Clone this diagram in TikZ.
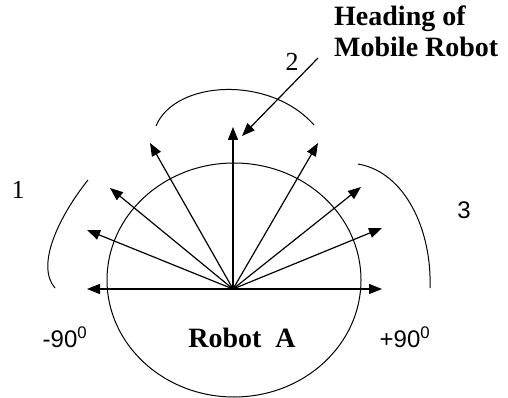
\documentclass[tikz,border=0pt]{standalone}
\usepackage{fontspec}
\setmainfont{Liberation Serif}
\newfontfamily\labsans{Liberation Sans}
\usetikzlibrary{arrows.meta}
\begin{document}
\begin{tikzpicture}[x=1pt,y=-1pt,
  ray/.style={line width=1.2pt,-{Triangle[length=13pt,width=10pt]}},
  curve/.style={line width=1pt},
  boldlab/.style={font=\fontsize{28}{31}\selectfont\bfseries,align=left,inner sep=0pt},
  numlab/.style={font=\fontsize{26}{28}\selectfont,inner sep=0pt},
  anglab/.style={font=\labsans\fontsize{24}{26}\selectfont,inner sep=0pt}]
\useasboundingbox (0,0) rectangle (508,398);
% robot body
\draw[curve] (234,280) ellipse [x radius=127, y radius=117];
\coordinate (O) at (233,289);
\coordinate (tL) at (87,289);
\coordinate (tR) at (382,289);
\coordinate (tL1) at (87,230);
\coordinate (tL2) at (110,188);
\coordinate (tL3) at (150,143);
\coordinate (tV) at (233,127);
\coordinate (tR3) at (318,143);
\coordinate (tR2) at (361,187);
\coordinate (tR1) at (382,228);
\foreach \t in {tL,tR,tL1,tL2,tL3,tV,tR3,tR2,tR1}
  \draw[ray] (O) -- (\t);
% heading arrow
\coordinate (hs) at (318,58);
\coordinate (ht) at (242,136);
\draw[ray] (hs) -- (ht);
% sector arcs
\coordinate (a1s) at (88,180);
\coordinate (a1e) at (55,288);
\draw[curve] (a1s) .. controls (60,215) and (35,265) .. (a1e);
\coordinate (a2s) at (156,126);
\coordinate (a2e) at (314,125);
\draw[curve] (a2s) .. controls (175,80) and (270,75) .. (a2e);
\coordinate (a3s) at (358,164);
\coordinate (a3e) at (430,288);
\draw[curve] (a3s) .. controls (405,172) and (432,230) .. (a3e);
% labels
\node[boldlab,anchor=north west] (head) at (334,6) {Heading of\\Mobile Robot};
\node[numlab] (n1) at (18,190) {1};
\node[numlab] (n2) at (292,62) {2};
\node[anglab] (n3) at (464,210) {3};
\node[anglab] (m90) at (65,337) {-90\textsuperscript{0}};
\node[anglab] (p90) at (405,337) {+90\textsuperscript{0}};
\node[boldlab] (rob) at (242,338) {Robot\ \ A};
\end{tikzpicture}
\end{document}
